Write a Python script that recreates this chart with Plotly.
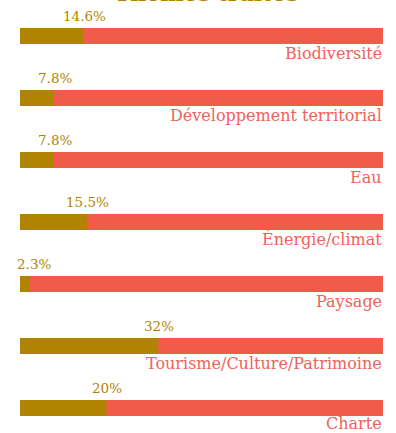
import plotly.graph_objects as go

# Themes and the share of each one
themes = ["Biodiversité", "Développement territorial", "Eau", "Énergie/climat",
          "Paysage", "Tourisme/Culture/Patrimoine", "Charte"]
shares = [14.6, 7.8, 7.8, 15.5, 2.3, 32, 20]
share_labels = ["14.6%", "7.8%", "7.8%", "15.5%", "2.3%", "32%", "20%"]

SCALE_MAX = 84  # value reached by the full-width track
OLIVE = "#b08400"
CORAL = "#f05b4a"
LABEL_CORAL = "#f0625a"

idx = list(range(len(themes)))

fig = go.Figure()
# full-width track behind each bar
fig.add_trace(go.Bar(
    y=idx, x=[SCALE_MAX] * len(themes), orientation="h",
    marker=dict(color=CORAL, line=dict(width=0)), width=0.26,
    hoverinfo="skip", showlegend=False,
))
# share bars
fig.add_trace(go.Bar(
    y=idx, x=shares, orientation="h",
    marker=dict(color=OLIVE, line=dict(width=0)), width=0.26,
    customdata=themes, hovertemplate="%{customdata}: %{x}%<extra></extra>",
    showlegend=False,
))

annotations = []
last = len(themes) - 1
for i, (t, v, lab) in enumerate(zip(themes, shares, share_labels)):
    annotations.append(dict(
        x=SCALE_MAX, y=i, xref="x", yref="y", text=t, showarrow=False,
        xanchor="right", yanchor="middle", yshift=-15 if i == last else -17,
        xshift=1,
        font=dict(family="DejaVu Serif", size=16, color=LABEL_CORAL),
    ))
    annotations.append(dict(
        x=max(v, 2.9), y=i, xref="x", yref="y", text=lab, showarrow=False,
        xanchor="center", yanchor="middle", yshift=20, xshift=1,
        font=dict(family="DejaVu Serif", size=13.5, color=OLIVE),
    ))

# heading, mostly above the visible area
annotations.append(dict(
    x=0.5, y=1, xref="paper", yref="paper", text="<b>Thèmes traités</b>",
    showarrow=False, xanchor="center", yanchor="bottom", yshift=-8, xshift=5,
    font=dict(family="DejaVu Serif", size=22, color=OLIVE),
))

fig.update_layout(
    width=396, height=433,
    margin=dict(l=20, r=13, t=0, b=0),
    paper_bgcolor="white", plot_bgcolor="white",
    barmode="overlay",
    xaxis=dict(range=[0, SCALE_MAX], visible=False, fixedrange=True),
    yaxis=dict(range=[6.403, -0.5806], visible=False, fixedrange=True),
    annotations=annotations,
)

fig.write_html("out.html")
